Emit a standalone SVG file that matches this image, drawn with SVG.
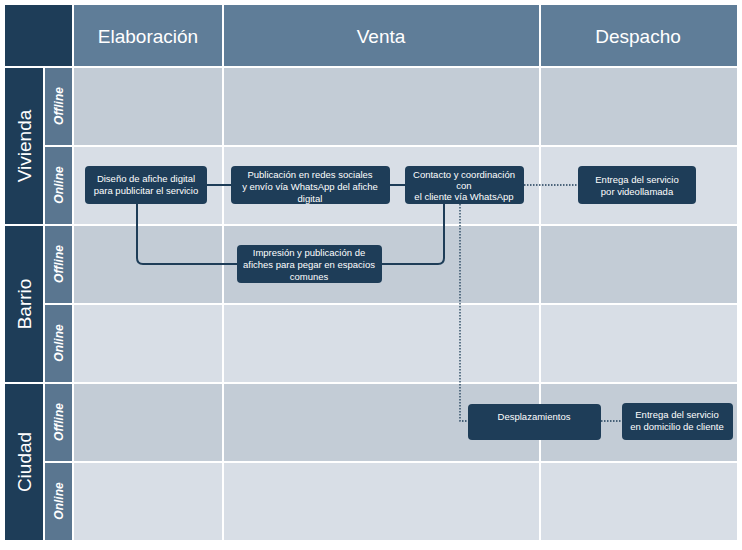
<svg xmlns="http://www.w3.org/2000/svg" width="742" height="550" viewBox="0 0 742 550">
<style>
.off{fill:#c3ccd6}.on{fill:#d8dee6}.hd{fill:#5f7d98}.dk{fill:#1e3d58}.sb{fill:#5a7690}
.grid{stroke:#fff;stroke-width:2;fill:none}
.node rect{fill:#1e3d58;stroke:none}
.node text{fill:#fff;font-family:"Liberation Sans",Arial,sans-serif;font-size:9.5px;text-anchor:middle}
.ht{fill:#fff;font-family:"Liberation Sans",Arial,sans-serif;font-size:19px;text-anchor:middle}
.gt{fill:#fff;font-family:"Liberation Sans",Arial,sans-serif;font-size:19px;text-anchor:middle}
.st{fill:#fff;font-family:"Liberation Sans",Arial,sans-serif;font-size:12px;font-style:italic;font-weight:bold;text-anchor:middle}
.solid{stroke:#1e3d58;stroke-width:2;fill:none}
.dot{stroke:#1e3d58;stroke-width:1.3;stroke-dasharray:1.5 1.5;fill:none}
</style>
<rect width="742" height="550" fill="#fff"/>
<g id="lanes">
<rect class="dk" x="5" y="5" width="68" height="62"/>
<rect class="hd" x="73" y="5" width="664" height="62"/>
<rect class="off" x="73" y="67" width="664" height="79"/>
<rect class="on" x="73" y="146" width="664" height="79"/>
<rect class="off" x="73" y="225" width="664" height="79"/>
<rect class="on" x="73" y="304" width="664" height="79"/>
<rect class="off" x="73" y="383" width="664" height="79"/>
<rect class="on" x="73" y="462" width="664" height="78"/>
<rect class="dk" x="5" y="67" width="39" height="473"/>
<rect class="sb" x="44" y="67" width="29" height="473"/>
<path class="grid" d="M73 5V540M223 5V540M540 5V540M5 67H737M44 146H737M5 225H737M44 304H737M5 383H737M44 462H737M44 67V540"/>
<text class="ht" x="148" y="43">Elaboración</text>
<text class="ht" x="381" y="43">Venta</text>
<text class="ht" x="638" y="43">Despacho</text>
<text class="gt" transform="translate(31 146) rotate(-90)">Vivienda</text>
<text class="gt" transform="translate(31 304) rotate(-90)">Barrio</text>
<text class="gt" transform="translate(31 462) rotate(-90)">Ciudad</text>
<text class="st" transform="translate(63 106) rotate(-90)">Offline</text>
<text class="st" transform="translate(63 185) rotate(-90)">Online</text>
<text class="st" transform="translate(63 264) rotate(-90)">Offline</text>
<text class="st" transform="translate(63 343) rotate(-90)">Online</text>
<text class="st" transform="translate(63 422) rotate(-90)">Offline</text>
<text class="st" transform="translate(63 501) rotate(-90)">Online</text>
</g>
<g id="connectors">
<path class="solid" d="M207 185H231M390 185H405M137 204V258Q137 264 143 264H237M382 264H438Q444 264 444 258V204"/>
<path class="dot" d="M524 185H578M460 204V421H468M601 421H622"/>
</g>
<g id="n1" class="node"><rect x="85" y="166" width="122" height="38" rx="4"/><text x="146" y="182">Diseño de  afiche digital</text><text x="146" y="194">para publicitar el servicio</text></g>
<g id="n2" class="node"><rect x="231" y="166" width="159" height="38" rx="4"/><text x="310" y="178">Publicación en redes sociales</text><text x="310" y="190">y envío vía WhatsApp del afiche</text><text x="310" y="202">digital</text></g>
<g id="n3" class="node"><rect x="405" y="166" width="119" height="38" rx="4"/><text x="464" y="178">Contacto y coordinación</text><text x="464" y="189">con</text><text x="464" y="200">el cliente vía WhatsApp</text></g>
<g id="n4" class="node"><rect x="578" y="166" width="118" height="38" rx="4"/><text x="637" y="183">Entrega del servicio</text><text x="637" y="195">por videollamada</text></g>
<g id="n5" class="node"><rect x="237" y="245" width="145" height="38" rx="4"/><text x="309" y="256">Impresión y publicación  de</text><text x="309" y="268">afiches para pegar en espacios</text><text x="309" y="280">comunes</text></g>
<g id="n6" class="node"><rect x="468" y="404" width="133" height="36" rx="4"/><text x="534" y="420">Desplazamientos</text></g>
<g id="n7" class="node"><rect x="622" y="403" width="111" height="37" rx="4"/><text x="677" y="418">Entrega del servicio</text><text x="677" y="430">en domicilio de cliente</text></g>
</svg>
